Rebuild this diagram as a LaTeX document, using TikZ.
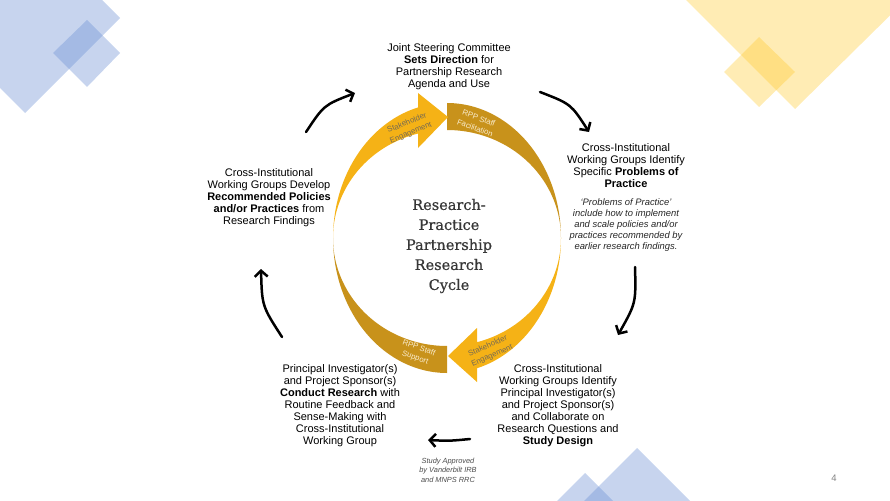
\documentclass[tikz,border=0pt]{standalone}
\usepackage{fontspec}
\setmainfont{Liberation Sans}
\newfontfamily\titlefont[FakeBold=0.7]{DejaVu Serif}
\usetikzlibrary{arrows.meta}
\definecolor{ringyel}{RGB}{245,178,22}
\definecolor{ringgold}{RGB}{200,146,27}
\definecolor{decoblue}{RGB}{110,145,212}
\definecolor{decoyel}{RGB}{255,200,40}
\definecolor{titlegrey}{RGB}{55,55,55}
\definecolor{lbltext}{RGB}{118,106,82}
\definecolor{lblcream}{RGB}{250,236,205}
\definecolor{pagegrey}{RGB}{130,130,130}
\begin{document}
\begin{tikzpicture}[x=1pt,y=-1pt,
  body/.style={align=center, inner sep=0pt, font=\fontsize{11}{12}\selectfont},
  note/.style={align=center, inner sep=0pt, font=\fontsize{9.4}{11}\selectfont\itshape, text=black!85},
  tiny/.style={align=center, inner sep=0pt, font=\fontsize{7.4}{9.5}\selectfont\itshape, text=black!70},
  ttl/.style={align=center, inner sep=0pt, font=\titlefont\fontsize{14.5}{20}\selectfont, text=titlegrey},
  lblY/.style={align=center, inner sep=0pt, font=\fontsize{7.8}{10.5}\selectfont, text=lbltext},
  lblD/.style={align=center, inner sep=0pt, font=\fontsize{7.8}{10.5}\selectfont, text=lblcream},
  cyc/.style={line width=2.5pt, line cap=round, -{Straight Barb[length=6pt,width=13pt]}},
  bdeco/.style={fill=decoblue, fill opacity=0.39},
  ydeco/.style={fill=decoyel, fill opacity=0.35}]
\path[use as bounding box] (0,0) rectangle (890,500);
\begin{scope}
\clip (0,0) rectangle (890,500);
% decorative diamonds
\fill[bdeco] (25,-77) -- (120,18) -- (25,113) -- (-70,18) -- cycle;
\fill[bdeco] (87,20) -- (120,53) -- (87,87) -- (53,53) -- cycle;
\fill[ydeco] (795,-155) -- (928,-22) -- (795,109) -- (664,-22) -- cycle;
\fill[ydeco] (759,37) -- (795,72) -- (759,107) -- (724,72) -- cycle;
\fill[bdeco] (637,448) -- (697,508) -- (637,568) -- (577,508) -- cycle;
\fill[bdeco] (585,473) -- (625,513) -- (585,553) -- (545,513) -- cycle;
\end{scope}
% ring: dark bands
\fill[ringgold] plot[domain=270:360, samples=60] ({447+114*cos(\x)},{238+135*sin(\x)})
  -- plot[domain=360:270, samples=60] ({447+114*cos(\x)},{238+108*sin(\x)}) -- cycle;
\fill[ringgold] plot[domain=90:180, samples=60] ({447+114*cos(\x)},{238+135*sin(\x)})
  -- plot[domain=180:90, samples=60] ({447+114*cos(\x)},{238+108*sin(\x)}) -- cycle;
% ring: yellow arrows
\fill[ringyel] plot[domain=0:74.7, samples=60] ({447+114*cos(\x)},{238+135*sin(\x)})
  -- (477,382) -- (448,356) -- (477,328)
  -- plot[domain=74.7:0, samples=60] ({447+114*cos(\x)},{238+108*sin(\x)}) -- cycle;
\fill[ringyel] plot[domain=180:255.3, samples=60] ({447+114*cos(\x)},{238+135*sin(\x)})
  -- (418,93) -- (448,117) -- (418,148)
  -- plot[domain=255.3:180, samples=60] ({447+114*cos(\x)},{238+108*sin(\x)}) -- cycle;
% band labels
\node[lblY, rotate=22] (lbl1) at (409,128) {Stakeholder\\Engagement};
\node[lblD, rotate=-20] (lbl2) at (477,123) {RPP Staff\\Facilitation};
\node[lblD, rotate=-20] (lbl3) at (417,353) {RPP Staff\\Support};
\node[lblY, rotate=24] (lbl4) at (490,351) {Stakeholder\\Engagement};
% title
\node[ttl] (title) at (449,246) {Research-\\Practice\\Partnership\\Research\\Cycle};
% text blocks
\node[body] (jsc) at (449,67) {Joint Steering Committee\\\textbf{Sets Direction} for\\Partnership Research\\Agenda and Use};
\node[body] (cig1) at (626,165.5) {Cross-Institutional\\Working Groups Identify\\Specific \textbf{Problems of}\\\textbf{Practice}};
\node[note] (pop) at (626,225.5) {‘Problems of Practice’\\include how to implement\\and scale policies and/or\\practices recommended by\\earlier research findings.};
\node[body] (cig2) at (558,406) {Cross-Institutional\\Working Groups Identify\\Principal Investigator(s)\\and Project Sponsor(s)\\and Collaborate on\\Research Questions and\\\textbf{Study Design}};
\node[body] (pi) at (340,406) {Principal Investigator(s)\\and Project Sponsor(s)\\\textbf{Conduct Research} with\\Routine Feedback and\\Sense-Making with\\Cross-Institutional\\Working Group};
\node[body] (cig3) at (269,197.5) {Cross-Institutional\\Working Groups Develop\\\textbf{Recommended Policies}\\\textbf{and/or Practices} from\\Research Findings};
\node[tiny] (irb) at (448,470) {Study Approved\\by Vanderbilt IRB\\and MNPS RRC};
\node[font=\fontsize{9.5}{11}\selectfont, text=pagegrey, inner sep=0pt] (pg) at (834,478) {4};
% cycle arrows
\coordinate (a1s) at (306,132); \coordinate (a1e) at (355,93);
\coordinate (a2s) at (540,92);  \coordinate (a2e) at (589,132);
\coordinate (a3s) at (635,267); \coordinate (a3e) at (618,335);
\coordinate (a4s) at (470,439); \coordinate (a4e) at (428,440);
\coordinate (a5s) at (282,337); \coordinate (a5e) at (261,269);
\draw[cyc] (a1s) .. controls (324,105) .. (a1e);
\draw[cyc] (a2s) .. controls (571,104) .. (a2e);
\draw[cyc] (a3s) .. controls (636,303) .. (a3e);
\draw[cyc] (a4s) .. controls (449,441) .. (a4e);
\draw[cyc] (a5s) .. controls (262,306) .. (a5e);
\end{tikzpicture}
\end{document}
